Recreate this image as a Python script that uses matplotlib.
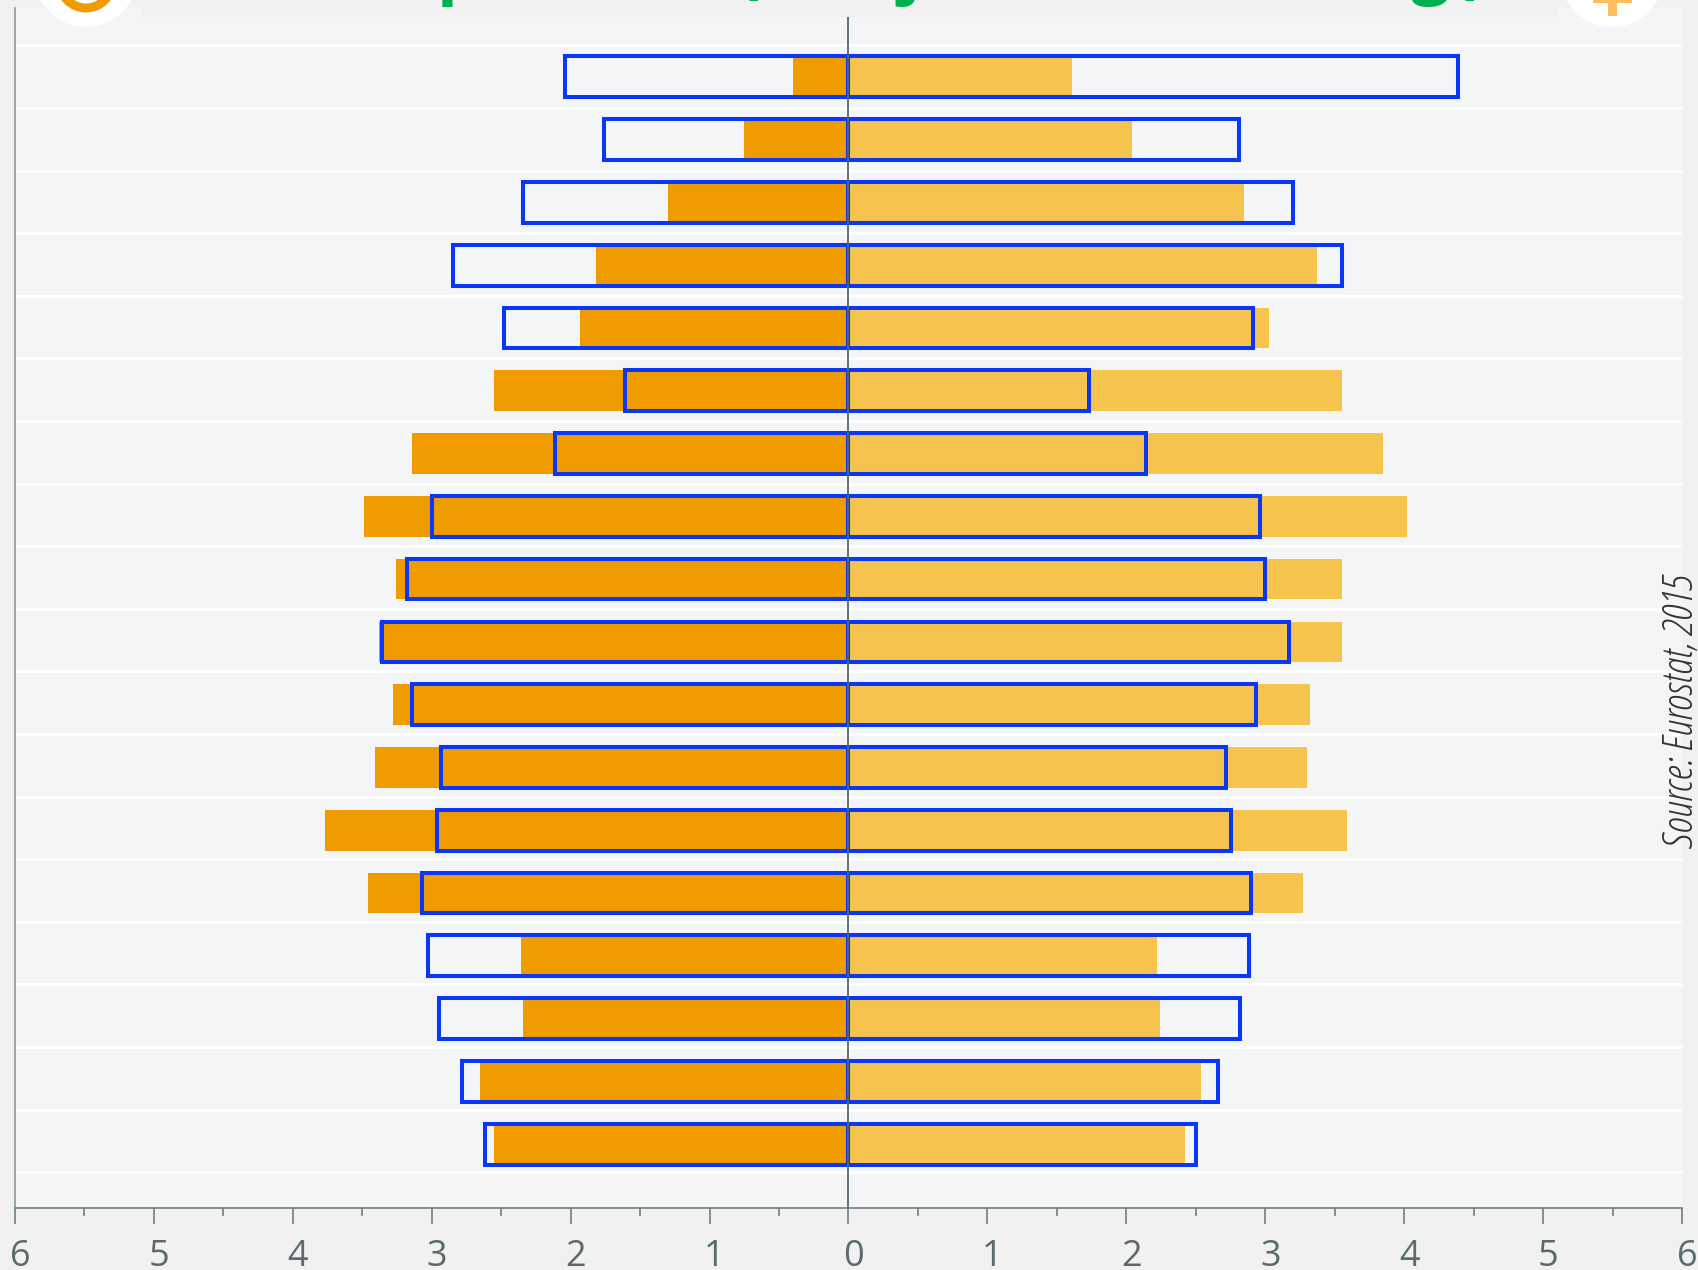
import matplotlib
matplotlib.use('Agg')
import matplotlib.pyplot as plt
from matplotlib.patches import Ellipse, Rectangle
from matplotlib.transforms import ScaledTranslation

# values per row, top to bottom
left_fill = [0.40, 0.75, 1.30, 1.82, 1.93, 2.55, 3.14, 3.49, 3.26, 3.38, 3.28, 3.41, 3.77, 3.46, 2.36, 2.34, 2.65, 2.55]
right_fill = [1.61, 2.04, 2.85, 3.37, 3.03, 3.55, 3.85, 4.02, 3.55, 3.55, 3.32, 3.30, 3.59, 3.27, 2.22, 2.24, 2.54, 2.42]
left_outline = [2.04, 1.76, 2.34, 2.85, 2.48, 1.61, 2.11, 3.00, 3.18, 3.36, 3.14, 2.93, 2.96, 3.07, 3.03, 2.95, 2.78, 2.62]
right_outline = [4.39, 2.81, 3.20, 3.55, 2.91, 1.73, 2.14, 2.96, 3.00, 3.17, 2.93, 2.72, 2.75, 2.90, 2.88, 2.82, 2.66, 2.50]
major_ticks = [-6, -5, -4, -3, -2, -1, 0, 1, 2, 3, 4, 5, 6]
major_labels = ['6', '5', '4', '3', '2', '1', '0', '1', '2', '3', '4', '5', '6']
minor_ticks = [-5.5, -4.5, -3.5, -2.5, -1.5, -0.5, 0.5, 1.5, 2.5, 3.5, 4.5, 5.5]

W, H = 1699, 1270
plt.rcParams['font.family'] = ['Open Sans', 'DejaVu Sans']

fig = plt.figure(figsize=(W / 100, H / 100), dpi=100, facecolor='#f1f1f1')
# plot area runs from y=8 to the axis line at y=1208
ax = fig.add_axes([15 / W, 1 - 1208 / H, (1682 - 15) / W, (1208 - 8) / H], facecolor='#f4f5f7')

n = len(left_fill)
row_h = 62.6  # pixels per row
first_line = 45.5
ax.set_xlim(-6, 6)
ax.set_ylim((1208 - first_line) / row_h - 0.5, -0.5 - (first_line - 8) / row_h)

for edge in range(n + 1):
    ax.axhline(edge - 0.5, color='white', lw=2.2, zorder=1)

# bars step very slightly wider than the grid in the reference
rows = [r * 1.003 for r in range(n)]
ax.barh(rows, [-v for v in left_fill], height=0.65, color='#f09c00', zorder=2)
ax.barh(rows, right_fill, height=0.65, color='#f6c44e', zorder=2)
ax.barh(rows, [-v for v in left_outline], height=0.65, facecolor='none', edgecolor='#0a37f5', lw=2.9, zorder=3)
ax.barh(rows, right_outline, height=0.65, facecolor='none', edgecolor='#0a37f5', lw=2.9, zorder=3)
ax.axvline(0, color='#55686a', lw=1.3, zorder=4)

ax.set_xticks(major_ticks)
ax.set_xticklabels(major_labels)
ax.set_xticks(minor_ticks, minor=True)
ax.set_yticks([])
ax.tick_params(axis='x', which='major', length=11.5, width=1.2, color='#6f8082', labelcolor='#5b6b6d', labelsize=26, pad=11)
ax.tick_params(axis='x', which='minor', length=6, width=1.2, color='#6f8082')
# tick labels sit a little right of their ticks
shift = ScaledTranslation(5 / 100, 0, fig.dpi_scale_trans)
for label in ax.get_xticklabels():
    label.set_transform(label.get_transform() + shift)
for s in ['top', 'right']:
    ax.spines[s].set_visible(False)
ax.spines['left'].set_color('#8a9799')
ax.spines['left'].set_linewidth(1.2)
ax.spines['bottom'].set_color('#6f8082')
ax.spines['bottom'].set_linewidth(1.2)

fig.text(1682 / W, 1 - 711 / H, 'Source: Eurostat, 2015', rotation=90, ha='center', va='center',
         fontsize=30, style='italic', color='#333333', family='Open Sans', stretch='condensed')

# header band and badges, cut off by the top edge
fig.add_artist(Rectangle((143 / W, 1 - 17 / H), (1558 - 143) / W, 17 / H, transform=fig.transFigure,
                         facecolor='#f1f1f1', edgecolor='none', zorder=5))
for cx in [86, 1612]:
    fig.add_artist(Ellipse((cx / W, 1 + 25 / H), 104 / W, 104 / H, transform=fig.transFigure,
                           facecolor='white', edgecolor='none', zorder=6))
fig.add_artist(Ellipse((86 / W, 1 + 18 / H), 52 / W, 52 / H, transform=fig.transFigure,
                       facecolor='none', edgecolor='#f09c00', lw=6.5, zorder=7))
fig.add_artist(Rectangle((1593 / W, 1 - 3 / H), 39 / W, 3 / H, transform=fig.transFigure,
                         facecolor='#fbbf5e', edgecolor='none', zorder=7))
fig.add_artist(Rectangle((1608 / W, 1 - 16 / H), 9 / W, 16 / H, transform=fig.transFigure,
                         facecolor='#fbbf5e', edgecolor='none', zorder=7))

for x, ch in [(459, 'p'), (748, '('), (910, 'j'), (1430, 'g'), (1475, ')')]:
    fig.text(x / W, 1 + 10 / H, ch, ha='center', va='baseline', fontsize=50, fontweight='bold',
             color='#00b050', zorder=8)

fig.savefig('out.png', dpi=100, facecolor=fig.get_facecolor())
